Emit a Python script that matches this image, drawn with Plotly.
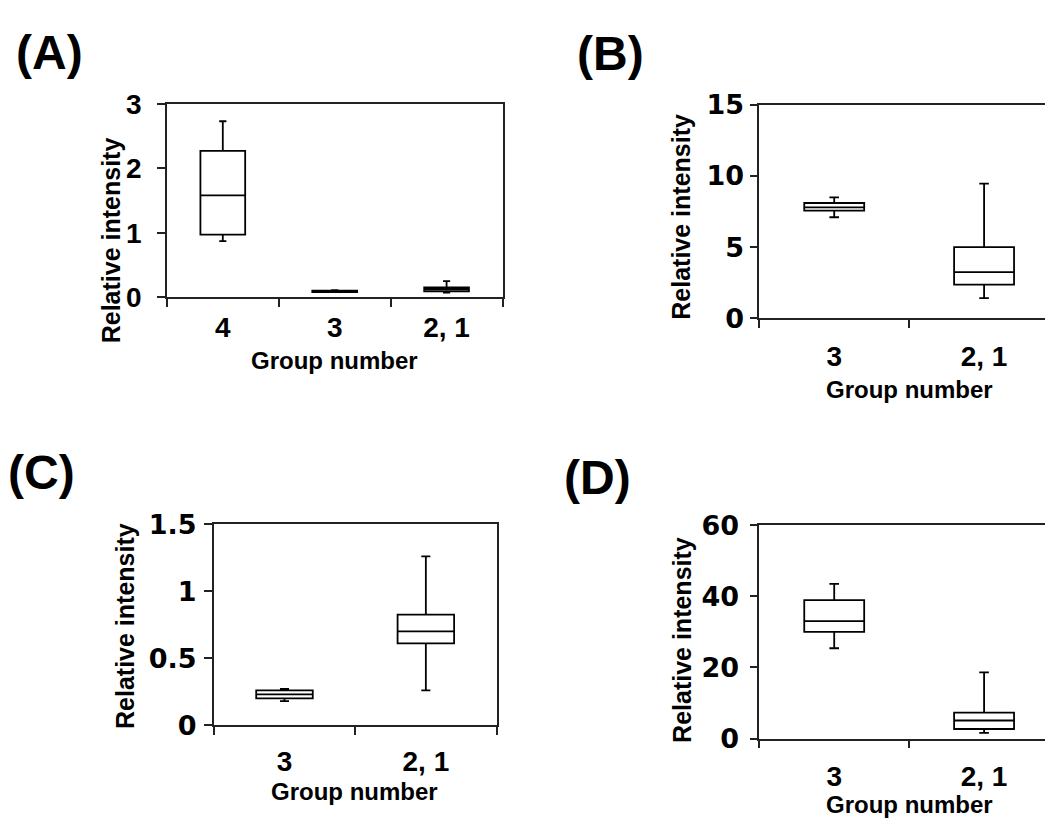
import plotly.graph_objects as go

# ---------------- data ----------------
groups_a = ["4", "3", "2, 1"]
a_low = [0.87, 0.08, 0.07]
a_q1 = [0.97, 0.08, 0.09]
a_med = [1.58, 0.09, 0.12]
a_q3 = [2.27, 0.10, 0.15]
a_high = [2.73, 0.11, 0.25]

groups_b = ["3", "2, 1"]
b_low = [7.1, 1.42]
b_q1 = [7.57, 2.36]
b_med = [7.8, 3.24]
b_q3 = [8.1, 5.0]
b_high = [8.5, 9.46]

groups_c = ["3", "2, 1"]
c_low = [0.18, 0.26]
c_q1 = [0.20, 0.61]
c_med = [0.23, 0.70]
c_q3 = [0.26, 0.825]
c_high = [0.27, 1.26]

groups_d = ["3", "2, 1"]
d_low = [25.4, 1.6]
d_q1 = [30.0, 2.7]
d_med = [33.0, 5.1]
d_q3 = [38.9, 7.3]
d_high = [43.5, 18.6]

yticks_a = [0, 1, 2, 3]
yticks_b = [0, 5, 10, 15]
yticks_c = [0, 0.5, 1, 1.5]
ytext_c = ["0", "0.5", "1", "1.5"]
yticks_d = [0, 20, 40, 60]

W, H = 1053, 838
OFF = 8  # page body margin
FONT = "Liberation Sans, Arial, sans-serif"
WIDE = "DejaVu Sans, Verdana, sans-serif"


def px_x(p):
    return (p - OFF) / W


def px_y(p):
    return 1 - (p - OFF) / H


fig = go.Figure()

panels = [
    dict(n="", g=groups_a, lo=a_low, q1=a_q1, med=a_med, q3=a_q3, hi=a_high,
         xd=(167, 503), yd=(292, 91), yr=[0, 3], yt=yticks_a, ytt=[str(v) for v in yticks_a],
         xr=[-0.5, 2.5], yfont=(FONT, 28), xfont=28, ysoff=10, xsoff=4),
    dict(n="2", g=groups_b, lo=b_low, q1=b_q1, med=b_med, q3=b_q3, hi=b_high,
         xd=(760, 1060), yd=(314, 92), yr=[0, 15], yt=yticks_b, ytt=[str(v) for v in yticks_b],
         xr=[-0.5, 1.5], yfont=(WIDE, 27), xfont=28, ysoff=0, xsoff=12),
    dict(n="3", g=groups_c, lo=c_low, q1=c_q1, med=c_med, q3=c_q3, hi=c_high,
         xd=(214, 497), yd=(737, 528), yr=[0, 1.5], yt=yticks_c, ytt=ytext_c,
         xr=[-0.5, 1.5], yfont=(WIDE, 27), xfont=28, ysoff=2, xsoff=10),
    dict(n="4", g=groups_d, lo=d_low, q1=d_q1, med=d_med, q3=d_q3, hi=d_high,
         xd=(760, 1060), yd=(751, 529), yr=[0, 60], yt=yticks_d, ytt=[str(v) for v in yticks_d],
         xr=[-0.5, 1.5], yfont=(WIDE, 27), xfont=28, ysoff=5, xsoff=12),
]

layout_axes = {}
for p in panels:
    n = p["n"]
    fig.add_trace(go.Box(
        x=p["g"], q1=p["q1"], median=p["med"], q3=p["q3"],
        lowerfence=p["lo"], upperfence=p["hi"],
        xaxis="x" + n, yaxis="y" + n,
        width=0.4, whiskerwidth=0.16,
        line=dict(color="black", width=1.8), fillcolor="white",
        boxpoints=False, showlegend=False, hoverinfo="skip",
    ))
    layout_axes["xaxis" + n] = dict(
        domain=[px_x(p["xd"][0]), min(1, px_x(p["xd"][1]))], anchor="y" + n,
        type="category", range=p["xr"], tickson="boundaries",
        ticks="outside", ticklen=8, tickwidth=1.5, tickcolor="#222",
        showline=True, linecolor="#222", linewidth=1.5, mirror=True,
        showgrid=False, zeroline=False,
        tickfont=dict(family=FONT, size=p["xfont"], color="black", weight="bold"),
        ticklabelstandoff=p["xsoff"],
    )
    layout_axes["yaxis" + n] = dict(
        domain=[px_y(p["yd"][0]), px_y(p["yd"][1])], anchor="x" + n,
        range=p["yr"], tickvals=p["yt"], ticktext=p["ytt"],
        ticks="outside", ticklen=8, tickwidth=1.5, tickcolor="#222",
        showline=True, linecolor="#222", linewidth=1.5, mirror=True,
        showgrid=False, zeroline=False,
        tickfont=dict(family=p["yfont"][0], size=p["yfont"][1], color="black", weight="bold"),
        ticklabelstandoff=p["ysoff"],
    )

annotations = []
# panel labels
for lab, cx, cy in [("(A)", 50, 38), ("(B)", 611, 39), ("(C)", 42, 474), ("(D)", 598, 480)]:
    annotations.append(dict(text=lab, x=px_x(cx), y=px_y(cy), xref="paper", yref="paper",
                            showarrow=False, xanchor="center", yanchor="middle",
                            font=dict(family=FONT, size=48, color="black", weight="bold")))
# x titles
for cx, cy in [(335, 358), (910, 388), (355, 806), (910, 819)]:
    annotations.append(dict(text="Group number", x=px_x(cx), y=px_y(cy), xref="paper", yref="paper",
                            showarrow=False, xanchor="center", yanchor="middle",
                            font=dict(family=FONT, size=24, color="black", weight="bold")))
# y titles
for cx, cy in [(112, 233), (682, 208), (125, 634), (682, 648)]:
    annotations.append(dict(text="Relative intensity", x=px_x(cx), y=px_y(cy), xref="paper", yref="paper",
                            showarrow=False, xanchor="center", yanchor="middle", textangle=-90,
                            font=dict(family=FONT, size=25, color="black", weight="bold")))

fig.update_layout(
    width=W, height=H, margin=dict(l=0, r=0, t=0, b=0),
    paper_bgcolor="white", plot_bgcolor="white",
    annotations=annotations, **layout_axes,
)

fig.write_html("out.html")
